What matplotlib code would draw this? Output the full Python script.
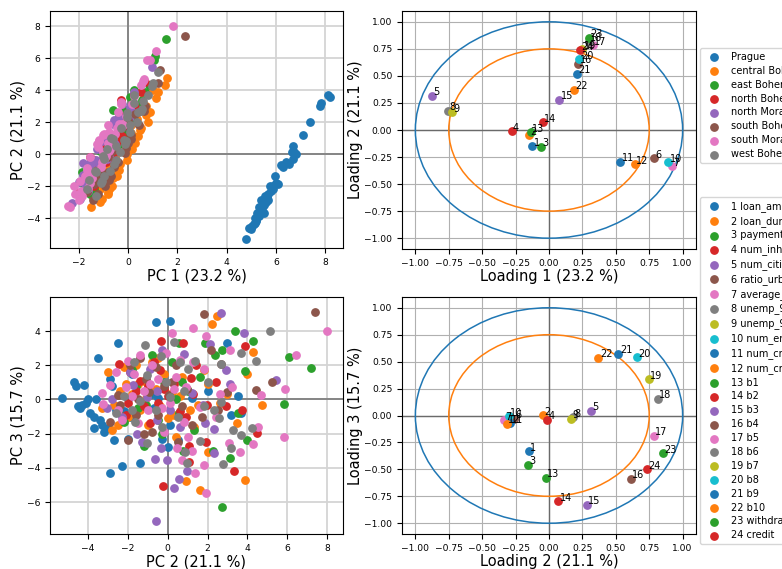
import numpy as np
import matplotlib
matplotlib.use('Agg')
import matplotlib.pyplot as plt
from matplotlib.patches import Circle

# scores (PC1, PC2, PC3) per region
regions = ['Prague', 'central Bohemia', 'east Bohemia', 'north Bohemia',
           'north Moravia', 'south Bohemia', 'south Moravia', 'west Bohemia']

prague = [(4.80, -5.3, 0.1), (4.90, -4.6, 0.8), (5.00, -4.7, 1.0), (5.05, -4.5, -0.4), (5.10, -4.4, -0.5),
          (5.15, -4.0, 0.0), (5.20, -4.2, 0.85), (5.30, -3.9, -0.8), (5.25, -3.7, -1.0), (5.40, -3.5, 2.4),
          (5.30, -3.3, -1.5), (5.50, -3.2, -1.9), (5.60, -3.0, -1.7), (5.40, -2.9, -4.3), (5.65, -2.7, -2.4),
          (5.70, -2.5, 3.3), (5.55, -2.6, -0.6), (5.80, -2.3, -3.9), (5.75, -2.0, -2.3), (5.90, -2.0, 0.0),
          (6.00, -1.8, 1.5), (5.95, -1.4, -3.7), (6.20, -0.7, -0.5), (6.30, -0.8, 0.3), (6.55, -0.6, 4.5),
          (6.40, -0.5, 0.1), (6.75, 0.1, 4.6), (6.70, -0.3, -2.3), (6.80, 0.0, -2.8), (6.65, 0.1, -1.5),
          (6.70, 0.5, -2.4), (7.10, 1.2, 0.1), (7.40, 2.0, 0.5), (7.80, 3.0, 3.3), (7.85, 3.2, -0.9),
          (8.10, 3.7, -0.8), (8.20, 3.55, 0.2), (5.35, -3.6, 0.0), (5.60, -2.8, 0.8), (5.20, -4.1, -0.2),
          (5.45, -3.4, -1.2), (5.15, -4.3, -0.3), (5.70, -2.9, 1.2), (5.50, -3.7, -1.7), (5.90, -2.2, -0.7),
          (6.10, -1.9, -1.0)]

central = [(-1.50, -3.3, -0.5), (-1.15, -3.0, 1.6), (-1.44, -2.7, -0.3), (-0.83, -2.4, 0.5), (-1.16, -2.2, 1.9),
           (-0.64, -2.0, -1.0), (-0.82, -1.8, 0.3), (-1.10, -1.6, 2.0), (-0.47, -1.4, -0.6), (-0.80, -1.2, 1.1),
           (-0.38, -1.0, -1.5), (-0.86, -0.8, 2.2), (-0.34, -0.6, 0.6), (-0.06, -0.4, -0.4), (-0.54, -0.2, 1.5),
           (-0.07, 0.0, -1.1), (-0.50, 0.2, 0.4), (-0.03, 0.4, -2.2), (0.28, 0.7, 1.3), (-0.15, 0.9, -4.75),
           (0.38, 1.1, -0.6), (0.10, 1.3, -1.6), (0.51, 1.6, -5.3), (0.13, 1.8, 1.7), (0.80, 2.0, -3.1),
           (0.37, 2.2, 4.4), (0.71, 2.45, 4.85), (0.87, 2.6, -0.2), (0.71, 3.0, 0.3), (1.14, 3.5, -1.4),
           (1.23, 3.9, -4.7), (1.02, 4.0, 1.5), (1.48, 4.3, 2.75), (1.59, 4.75, -0.3), (0.25, 2.0, 0.9),
           (-0.61, -1.5, 0.9), (-1.08, -2.8, -1.8), (-0.73, -2.1, 0.9), (-0.57, -1.1, 0.1), (-0.65, -0.5, 2.4),
           (0.14, 0.3, -0.9), (-0.15, 0.6, 0.2), (0.47, 1.5, -0.3), (-0.82, -2.5, -1.5)]

east = [(0.55, 3.4, 4.0), (0.83, 4.3, 3.4), (1.10, 6.1, 2.5), (1.53, 7.2, 1.85), (0.68, 3.9, 1.65),
        (1.05, 5.85, -0.25), (0.06, 3.55, -0.8), (0.25, 4.0, -2.4), (0.51, 3.15, -3.4), (-0.13, 2.75, -6.3),
        (0.19, 2.25, -3.0), (-0.37, 2.35, 2.6), (-0.15, 1.85, 3.3), (-0.92, 0.7, 1.0), (-0.42, 0.55, -0.8),
        (-0.75, 0.75, -3.0), (-1.15, -1.2, -2.7), (-1.87, -1.8, 1.7), (-1.57, -2.5, -0.7), (-1.02, 0.55, 3.3),
        (-0.69, -0.2, 1.0), (-1.48, -1.0, 0.3), (-1.00, -0.5, -1.2), (-0.15, 1.3, -1.8), (-1.76, -1.5, -0.5),
        (-1.41, -2.2, -1.3), (-1.15, 0.2, 2.2), (-0.36, 1.0, 0.5), (-1.31, -0.8, 2.6), (-0.60, 2.75, 2.9),
        (-1.88, -1.1, -0.3), (-0.83, -0.3, -2.0), (-0.98, 0.4, 0.0), (-0.24, 1.6, 1.3), (-1.20, -1.6, 0.8)]

north_boh = [(-0.45, 0.75, 3.3), (-1.40, -0.35, 3.4), (0.53, 3.9, 3.15), (-0.77, 1.25, 0.3), (-0.26, 1.15, 1.25),
             (0.23, 3.75, -0.6), (0.70, 4.5, -1.95), (-0.09, 1.9, -2.5), (-0.89, 1.05, -2.75), (-0.49, 1.05, -3.65),
             (-0.30, 3.35, -4.2), (-0.76, -0.25, -5.05), (-2.05, -2.45, 2.1), (-1.35, -1.9, 1.6), (-1.52, -0.7, 2.2),
             (-0.96, -0.4, 1.7), (-1.06, 0.3, 0.9), (-0.57, 1.95, -0.3), (0.29, 2.95, -0.4), (-1.10, -1.2, -0.4),
             (-1.80, -1.6, 0.5), (-1.63, -2.1, -0.9), (-1.39, -0.9, -1.4), (-0.62, 0.0, 0.2), (-1.05, 0.6, -0.7),
             (-0.90, -0.5, -0.2), (-0.31, 2.4, 1.0), (-1.17, -1.4, 1.1), (-1.55, -0.2, 0.6), (-1.13, -1.0, 0.8),
             (-0.85, 0.9, -1.0), (-1.39, -2.0, -0.2), (-0.37, 1.4, 2.0)]

north_mor = [(0.10, 2.7, 5.05), (0.22, 3.85, 3.9), (-0.56, 2.1, 3.25), (-0.88, -0.3, 2.9), (-1.08, 0.8, 2.65),
             (0.09, 2.95, 1.7), (0.96, 5.45, 1.15), (-0.24, 3.15, 0.9), (-0.19, 1.75, -0.3), (-0.39, 2.3, -1.75),
             (0.06, 2.3, -3.15), (-0.93, 0.95, -4.2), (-0.72, 0.55, -4.65), (-1.26, 0.3, -5.2), (-1.19, -0.6, -7.1),
             (-1.60, -0.65, -3.5), (-0.79, -0.05, -3.55), (-1.30, -0.35, -2.85), (-1.43, -1.55, -2.0),
             (-1.84, -1.3, -2.5), (-2.29, -3.05, -0.5), (-1.98, -2.8, 0.0), (-2.00, -1.75, 0.85), (-1.15, -1.05, 0.15),
             (-1.47, -0.55, -1.2), (-0.55, 0.6, -1.6), (-0.60, 1.85, -1.4), (-1.84, -0.55, 0.5), (-1.65, -2.3, -1.0),
             (-1.59, -0.9, 1.8), (-0.73, 0.1, -0.6), (-0.94, 1.2, 0.4), (-1.75, -1.9, 1.6)]

south_boh = [(2.30, 7.4, 5.1), (0.43, 1.8, 5.0), (0.00, 2.15, 2.9), (0.65, 2.7, 2.1), (0.70, 3.0, 0.45),
             (1.23, 4.45, 0.55), (1.30, 5.25, 1.0), (-0.21, 1.7, -1.0), (0.12, 0.95, 0.6), (-0.65, 0.2, 1.0),
             (-0.72, -1.4, 2.4), (-1.16, -0.95, 0.45), (-0.56, -0.8, -1.9), (-1.05, -1.2, -2.0), (-1.22, -2.5, 0.25),
             (-1.68, -2.4, -0.35), (-0.15, 0.05, 0.25), (-1.40, -1.9, 2.0), (-0.40, -0.5, -0.9), (-0.64, 0.5, -2.5),
             (0.11, 1.2, -1.5), (-0.80, -1.6, -0.9), (-0.84, -0.2, 0.8), (0.28, 2.5, -0.6), (-1.44, -2.9, -1.3),
             (-0.82, -1.1, 1.2), (-0.08, 0.4, 2.0), (-0.54, -0.6, 1.9), (-1.26, -1.5, 0.0), (-0.02, 0.7, -0.4),
             (-0.94, -2.0, -2.4)]

south_mor = [(1.82, 8.0, 4.0), (1.13, 6.45, 2.6), (0.76, 5.9, 0.6), (0.90, 5.85, -2.2), (0.61, 4.55, -1.6),
             (0.51, 4.3, -2.6), (0.66, 4.7, 0.25), (0.16, 3.15, 2.9), (-0.30, 3.25, 0.75), (-0.39, 1.9, 3.7),
             (-0.97, 1.25, 4.2), (-0.80, 0.2, 3.9), (-1.25, 0.6, 2.3), (-0.52, 1.25, 2.2), (-0.82, 1.8, 1.8),
             (-0.44, 1.6, -0.45), (-0.22, 1.8, -3.85), (-0.78, 1.35, -4.3), (-0.24, 1.9, -5.45), (-0.82, 0.7, -3.55),
             (-1.21, 0.45, -2.85), (-2.01, -2.9, 0.85), (-2.19, -2.0, 2.25), (-1.63, -2.1, 0.75), (-2.36, -3.3, 0.35),
             (-1.46, -1.5, -1.4), (-1.04, 1.2, -3.0), (0.24, 3.65, -3.05), (-0.30, 3.1, -2.55), (-1.05, -0.5, 1.2),
             (-1.68, -1.0, -0.6), (-1.03, 0.1, -0.2), (-1.98, -1.7, 1.5), (-1.11, -0.8, 2.0), (-2.17, -2.5, -0.6),
             (-1.20, 0.9, 0.7), (-0.11, 2.4, -1.0), (-1.60, -1.2, 0.5), (-1.54, -0.2, -1.9), (-0.43, 2.6, 0.3),
             (-2.43, -3.25, -0.25), (-1.86, -2.6, 1.6), (-0.83, 0.4, 1.3), (-0.98, -0.3, -0.5), (-1.57, -1.8, 0.2),
             (-1.69, -0.9, 0.9), (-0.91, -0.1, 2.7), (-1.18, 0.8, -1.3), (-1.90, -2.3, -1.2), (-0.61, 1.0, -2.2),
             (-1.77, -1.4, 2.6), (-0.76, 0.3, 0.6)]

west_boh = [(1.23, 5.15, 4.0), (0.22, 3.7, 2.7), (0.99, 4.45, 2.25), (0.53, 2.7, 2.05), (0.07, 1.35, 2.25),
            (-0.86, 0.3, 3.35), (-0.50, -0.35, 2.55), (-1.33, -1.15, 3.2), (-1.08, -1.7, 2.2), (-1.35, -1.05, 1.45),
            (-1.61, -1.65, -1.3), (-0.75, -1.05, -2.55), (-0.33, 0.1, 0.15), (-0.63, 0.95, -3.7), (-0.16, 0.85, -3.05),
            (-0.29, 1.6, -2.45), (0.38, 2.65, -0.15), (-0.05, 2.55, -1.1), (0.62, 3.3, -1.8), (0.23, 3.2, -2.85),
            (0.54, 2.8, -3.8), (0.81, 3.7, -2.1), (0.96, 4.25, -1.65), (-0.04, 2.3, -0.6), (-0.59, -0.6, -0.6),
            (-1.01, -0.1, 1.0), (-0.08, 0.8, 0.5), (-1.66, -2.2, 0.2), (-1.12, -1.8, -0.6), (-0.49, 0.5, -1.0),
            (0.35, 2.0, 1.0), (-0.69, 1.0, 1.8), (-0.97, -1.4, -0.1), (-0.98, -0.3, -1.6), (-0.15, 0.6, 2.2),
            (0.08, 1.8, -0.4), (-1.31, -2.6, -0.8)]

# loadings of the 24 variables on PC1..PC3
variables = ['loan_amount', 'loan_duration', 'payments', 'num_inhabitants', 'num_cities',
             'ratio_urban', 'average_salary', 'unemp_95', 'unemp_96', 'num_entrepreneurs',
             'num_crimes_95', 'num_crimes_96', 'b1', 'b2', 'b3', 'b4', 'b5', 'b6', 'b7', 'b8',
             'b9', 'b10', 'withdrawal', 'credit']
load1 = [-0.125, -0.148, -0.06, -0.28, -0.874, 0.789, 0.922, -0.757, -0.724, 0.892, 0.534, 0.642,
         -0.135, -0.047, 0.078, 0.22, 0.328, 0.30, 0.25, 0.228, 0.208, 0.186, 0.296, 0.233]
load2 = [-0.15, -0.048, -0.157, -0.012, 0.315, -0.262, -0.335, 0.178, 0.165, -0.30, -0.295, -0.318,
         -0.022, 0.07, 0.281, 0.61, 0.782, 0.814, 0.747, 0.655, 0.52, 0.37, 0.855, 0.735]
load3 = [-0.33, 0.003, -0.457, -0.04, 0.043, -0.03, -0.046, -0.016, -0.03, -0.006, -0.071, -0.077,
         -0.577, -0.796, -0.827, -0.586, -0.188, 0.157, 0.336, 0.54, 0.571, 0.534, -0.349, -0.497]

scores = [np.array(r).T for r in [prague, central, east, north_boh, north_mor,
                                  south_boh, south_mor, west_boh]]

fig = plt.figure(figsize=(7.82, 5.69), dpi=100)
W, H = 782, 569

def add_ax(l, t, r, b):
    return fig.add_axes([l / W, (H - b) / H, (r - l) / W, (b - t) / H])

ax_tl = add_ax(50, 11, 343, 248)
ax_bl = add_ax(50, 297, 343, 534)
ax_tr = add_ax(402, 11, 696, 249)
ax_br = add_ax(402, 297, 696, 534)

tick_fs = 6.6
label_fs = 10.5

# score plots
handles = []
for k, (name, s) in enumerate(zip(regions, scores)):
    h = ax_tl.scatter(s[0], s[1], s=28, color=f'C{k}', label=name, zorder=3)
    ax_bl.scatter(s[1], s[2], s=28, color=f'C{k}', zorder=3)
    handles.append(h)

for ax in (ax_tl, ax_bl):
    ax.grid(True, color='#d4d4d4', linewidth=1.3, zorder=0)
    ax.axhline(0, color='#7f7f7f', linewidth=1.3, zorder=1)
    ax.axvline(0, color='#7f7f7f', linewidth=1.3, zorder=1)
    ax.tick_params(labelsize=tick_fs)
    ax.set_axisbelow(True)

ax_tl.set_xlim(-3.18, 8.73)
ax_tl.set_ylim(-5.87, 8.94)
ax_tl.set_xticks(np.arange(-2, 9, 2))
ax_tl.set_yticks(np.arange(-4, 9, 2))
ax_tl.set_xlabel('PC 1 (23.2 %)', fontsize=label_fs, labelpad=1)
ax_tl.set_ylabel('PC 2 (21.1 %)', fontsize=label_fs, labelpad=1)

ax_bl.set_xlim(-5.91, 8.8)
ax_bl.set_ylim(-7.87, 5.99)
ax_bl.set_xticks(np.arange(-4, 9, 2))
ax_bl.set_yticks(np.arange(-6, 5, 2))
ax_bl.set_xlabel('PC 2 (21.1 %)', fontsize=label_fs, labelpad=1)
ax_bl.set_ylabel('PC 3 (15.7 %)', fontsize=label_fs, labelpad=1)

# loading plots
var_handles = []
for i in range(len(variables)):
    h = ax_tr.scatter(load1[i], load2[i], s=28, color=f'C{i % 10}',
                      label=f'{i + 1} {variables[i]}', zorder=3)
    ax_tr.text(load1[i] + 0.01, load2[i] + 0.005, str(i + 1), fontsize=7, zorder=4)
    ax_br.scatter(load2[i], load3[i], s=28, color=f'C{i % 10}', zorder=3)
    ax_br.text(load2[i] + 0.01, load3[i] + 0.005, str(i + 1), fontsize=7, zorder=4)
    var_handles.append(h)

ticks = np.arange(-1, 1.01, 0.25)
for ax in (ax_tr, ax_br):
    ax.add_patch(Circle((0, 0), 1.0, fill=False, color='C0', linewidth=1.1, zorder=2))
    ax.add_patch(Circle((0, 0), 0.75, fill=False, color='C1', linewidth=1.1, zorder=2))
    ax.grid(True, color='#b0b0b0', linewidth=0.8, zorder=0)
    ax.axhline(0, color='#6a6a6a', linewidth=1.0, zorder=1)
    ax.axvline(0, color='#6a6a6a', linewidth=1.0, zorder=1)
    ax.set_xlim(-1.1, 1.1)
    ax.set_ylim(-1.1, 1.1)
    ax.set_xticks(ticks)
    ax.set_yticks(ticks)
    ax.tick_params(labelsize=tick_fs)
    ax.set_axisbelow(True)

ax_tr.set_xlabel('Loading 1 (23.2 %)', fontsize=label_fs, labelpad=1)
ax_tr.set_ylabel('Loading 2 (21.1 %)', fontsize=label_fs, labelpad=1)
ax_br.set_xlabel('Loading 2 (21.1 %)', fontsize=label_fs, labelpad=1)
ax_br.set_ylabel('Loading 3 (15.7 %)', fontsize=label_fs, labelpad=1)

fig.legend(handles=handles, loc='upper left', bbox_to_anchor=(700 / W, (H - 48) / H),
           borderaxespad=0, fontsize=7, labelspacing=0.40)
fig.legend(handles=var_handles, loc='upper left', bbox_to_anchor=(700 / W, (H - 197) / H),
           borderaxespad=0, fontsize=7, labelspacing=0.40)

fig.savefig('out.png', dpi=100)
